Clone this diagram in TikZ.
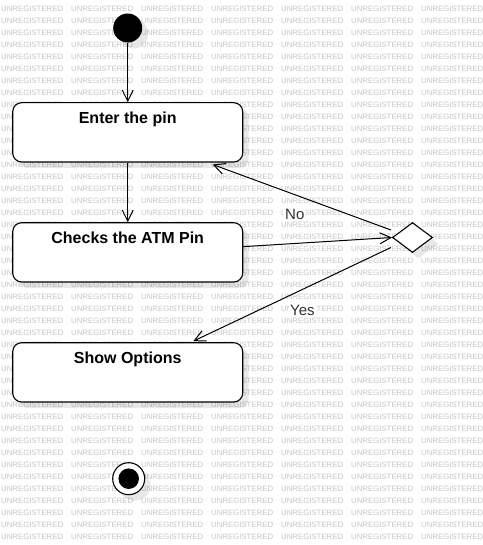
\documentclass[tikz,border=0pt]{standalone}
\usepackage{fontspec}
\setmainfont{Liberation Sans}
\usetikzlibrary{arrows.meta,calc,shapes.geometric,shadows}
\definecolor{wmgray}{RGB}{198,198,198}
\definecolor{lblgray}{RGB}{50,50,50}
\begin{document}
\begin{tikzpicture}[x=1pt,y=-1pt,
  shad/.style={drop shadow={shadow xshift=6pt,shadow yshift=-6pt,fill=black,opacity=0.09}},
  statebox/.style={draw=black,line width=1.1pt,fill=white,rounded corners=9pt,
    minimum width=230pt,minimum height=59.3pt,inner sep=0pt,shad},
  statetext/.style={anchor=base,inner sep=0pt,font=\fontsize{16}{19}\selectfont\bfseries},
  decision/.style={diamond,draw=black,line width=1.1pt,fill=white,minimum width=40pt,
    minimum height=30pt,inner sep=0pt,shad},
  arr/.style={draw=black,line width=1pt,-{Straight Barb[length=11pt,width=11pt,line width=1pt]}},
  lbl/.style={anchor=base west,fill=white,inner sep=1pt,text=lblgray,font=\fontsize{15}{17}\selectfont},
  wm/.style={anchor=base west,inner sep=0pt,text=wmgray,font=\fontsize{7.8}{8}\selectfont}
]
\useasboundingbox (0,0) rectangle (482,545);
\clip (0,0) rectangle (482,545);
\fill[white] (0,0) rectangle (482,545);
% watermark (words wholly hidden under the state boxes are left out)
\foreach \j in {0,...,44}{
  \pgfmathsetmacro{\yb}{11.5+12*\j}
  \pgfmathtruncatemacro{\inbox}{((\yb>110 && \yb<160) || (\yb>230 && \yb<280) || (\yb>350 && \yb<400)) ? 1 : 0}
  \foreach \i in {0,...,6}{
    \ifnum\inbox=1
      \ifnum\i=0
        \node[wm] (wm-\i-\j) at ({1+70*\i},\yb) {UN};
      \else\ifnum\i>2
        \node[wm] (wm-\i-\j) at ({1+70*\i},\yb) {UNREGISTERED};
      \fi\fi
    \else
      \node[wm] (wm-\i-\j) at ({1+70*\i},\yb) {UNREGISTERED};
    \fi
  }
}
% start
\node[circle,fill=black,minimum size=29pt,inner sep=0pt,shad] (s) at (127.7,28) {};
% states
\node[statebox] (b1) at (127.7,132.35) {};
\node[statetext] (t1) at ($(b1.north)+(0,21.5)$) {Enter the pin};
\node[statebox] (b2) at (127.7,252.35) {};
\node[statetext] (t2) at ($(b2.north)+(0,21.3)$) {Checks the ATM Pin};
\node[statebox] (b3) at (127.7,372.35) {};
\node[statetext] (t3) at ($(b3.north)+(0,21.3)$) {Show Options};
% decision
\node[decision] (d) at (412.5,237.5) {};
% end
\node[circle,draw=black,line width=1.1pt,fill=white,minimum size=32pt,inner sep=0pt,shad] (e) at (128.7,478.7) {};
\node[circle,fill=black,minimum size=20.5pt,inner sep=0pt] (ei) at (e) {};
% connectors
\draw[arr] (s.south) -- (s.south |- b1.north);
\draw[arr] (b1.south) -- (b2.north);
\draw[arr] ($(b2.east)+(0,-5.7)$) -- (d.west);
\draw[arr] ($(d.west)+(-1,-7.5)$) -- ($(b1.south east)+(-30.5,2)$);
\draw[arr] ($(d.west)+(-1,10)$) -- ($(b3.north)+(65.6,-1)$);
% labels
\node[lbl] (lno) at (284,219) {No};
\node[lbl] (lyes) at (289,315) {Yes};
\end{tikzpicture}
\end{document}
